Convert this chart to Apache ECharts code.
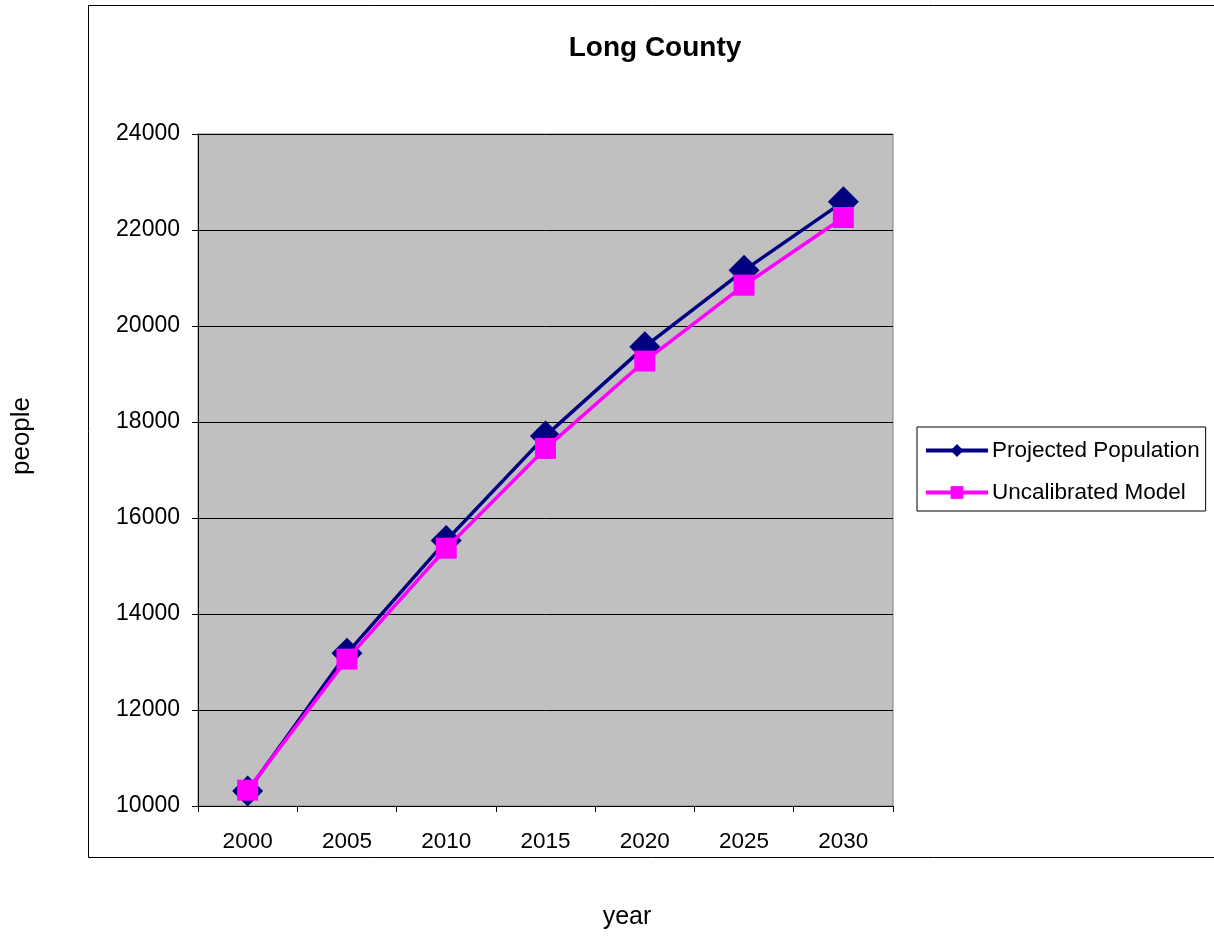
<!DOCTYPE html>
<html>
<head>
<meta charset="utf-8">
<script src="https://cdn.jsdelivr.net/npm/echarts@6/dist/echarts.min.js"></script>
<style>html,body{margin:0;padding:0;background:#fff;}#c{width:1214px;height:936px;}</style>
</head>
<body>
<div id="c"></div>
<script>
const years = ['2000', '2005', '2010', '2015', '2020', '2025', '2030'];
const projectedPopulation = [10310, 13180, 15530, 17710, 19570, 21160, 22590];
const uncalibratedModel = [10330, 13060, 15370, 17450, 19270, 20850, 22260];
const yTicks = { min: 10000, max: 24000, interval: 2000 };

const chart = echarts.init(document.getElementById('c'), null, { renderer: 'canvas' });
const FONT = 'Liberation Sans, Arial, sans-serif';
chart.setOption({
  animation: false,
  backgroundColor: '#fff',
  textStyle: { fontFamily: FONT },
  title: {
    text: 'Long County',
    left: 650, top: 29,
    textAlign: 'center',
    textStyle: { fontSize: 28, fontWeight: 'bold', color: '#000', fontFamily: FONT }
  },
  graphic: [
    { type: 'rect', shape: { x: 88.5, y: 5.5, width: 1200, height: 852 }, style: { fill: 'none', stroke: '#000', lineWidth: 1 }, z: -1 },
    { type: 'text', x: 22, y: 436, rotation: Math.PI / 2, style: { text: 'people', font: '26px ' + FONT, fill: '#000', textAlign: 'center', textVerticalAlign: 'middle' } },
    { type: 'text', x: 627, y: 917, style: { text: 'year', font: '25px ' + FONT, fill: '#000', textAlign: 'center', textVerticalAlign: 'middle' } }
  ],
  legend: {
    orient: 'vertical',
    left: 917, top: 427,
    padding: [12, 6, 7, 7],
    borderColor: '#000', borderWidth: 1,
    backgroundColor: '#fff',
    itemWidth: 62, itemHeight: 16, itemGap: 19,
    lineStyle: { width: 4 },
    textStyle: { fontSize: 22.5, color: '#000', fontFamily: FONT, padding: [0, 0, 0, -1] },
    data: ['Projected Population', 'Uncalibrated Model']
  },
  grid: {
    left: 198, right: 321, top: 134, bottom: 130,
    show: true, backgroundColor: '#c0c0c0', borderColor: '#808080', borderWidth: 1
  },
  xAxis: {
    type: 'category',
    data: years,
    boundaryGap: true,
    axisLine: { lineStyle: { color: '#000', width: 1 } },
    axisTick: { show: true, length: 6, lineStyle: { color: '#000' } },
    axisLabel: { fontSize: 22.5, color: '#000', margin: 24, fontFamily: FONT },
    splitLine: { show: false }
  },
  yAxis: {
    type: 'value',
    min: yTicks.min, max: yTicks.max, interval: yTicks.interval,
    axisLine: { show: true, lineStyle: { color: '#000', width: 1 } },
    axisTick: { show: true, length: 6, lineStyle: { color: '#000' } },
    axisLabel: { fontSize: 23, color: '#000', margin: 18, fontFamily: FONT, formatter: v => String(v) },
    splitLine: { show: true, lineStyle: { color: '#000', width: 1 } }
  },
  series: [
    {
      name: 'Projected Population',
      type: 'line',
      data: projectedPopulation,
      symbol: 'diamond', symbolSize: 31,
      lineStyle: { color: '#000080', width: 3.5 },
      itemStyle: { color: '#000080' },
      z: 2
    },
    {
      name: 'Uncalibrated Model',
      type: 'line',
      data: uncalibratedModel,
      symbol: 'rect', symbolSize: 21,
      lineStyle: { color: '#ff00ff', width: 3.5 },
      itemStyle: { color: '#ff00ff' },
      z: 3
    }
  ]
});
</script>
</body>
</html>
